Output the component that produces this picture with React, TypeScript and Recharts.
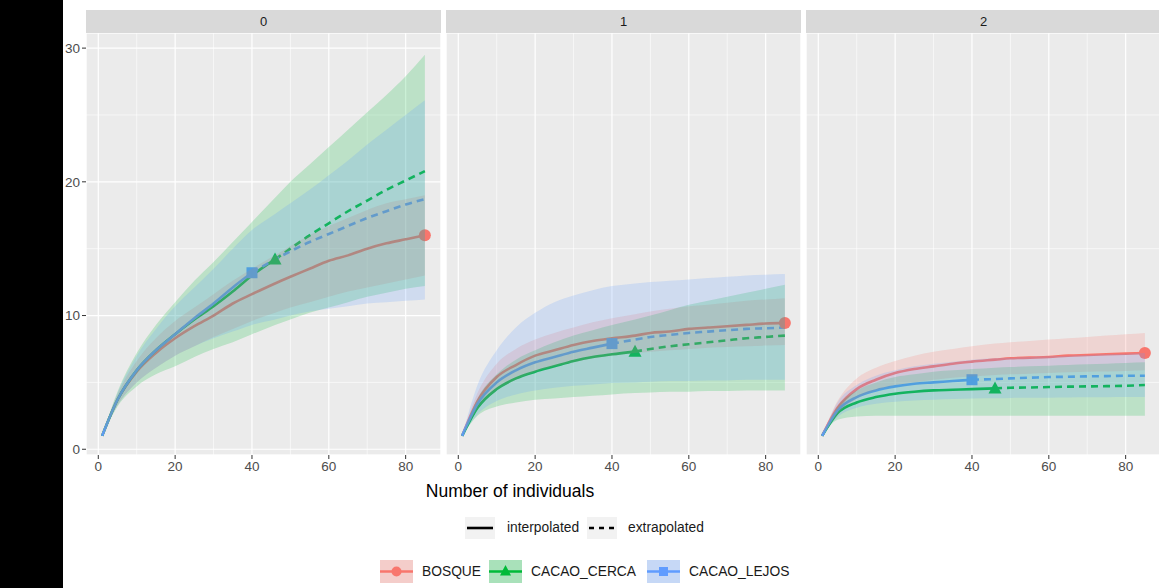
import React from "react";
import {
  ComposedChart,
  Line,
  Area,
  Scatter,
  XAxis,
  YAxis,
  CartesianGrid,
} from "recharts";

// ---------------------------------------------------------------------------
// Data
// ---------------------------------------------------------------------------

const SIZES = [1, 5, 10, 15, 20, 25, 30, 35, 40, 46, 50, 55, 60, 65, 70, 75, 80, 85];

const OBS_BOSQUE = 85;
const OBS_CERCA = 46;
const OBS_LEJOS = 40;

const FACET_LABELS = ["0", "1", "2"];

// q = 0
const Q0_BOSQUE = [1, 3.7, 5.8, 7.2, 8.3, 9.2, 10.0, 10.9, 11.6, 12.4, 12.9, 13.5, 14.1, 14.5, 15.0, 15.4, 15.7, 16.0];
const Q0_BOSQUE_LO = [1, 3.3, 5.0, 6.1, 7.0, 7.7, 8.4, 9.0, 9.6, 10.2, 10.6, 11.0, 11.4, 11.8, 12.1, 12.4, 12.7, 13.0];
const Q0_BOSQUE_HI = [1, 4.1, 6.6, 8.3, 9.6, 10.6, 11.6, 12.6, 13.5, 14.5, 15.2, 16.0, 16.7, 17.3, 17.9, 18.4, 18.7, 19.0];
const Q0_CERCA = [1, 3.7, 5.9, 7.4, 8.6, 9.7, 10.7, 11.8, 13.0, 14.2, 15.0, 16.0, 16.9, 17.8, 18.6, 19.4, 20.1, 20.8];
const Q0_CERCA_LO = [1, 3.2, 4.7, 5.6, 6.2, 6.9, 7.5, 8.0, 8.6, 9.3, 9.7, 10.2, 10.6, 11.0, 11.4, 11.7, 12.0, 12.2];
const Q0_CERCA_HI = [1, 4.3, 7.2, 9.3, 11.0, 12.6, 14.0, 15.5, 17.0, 18.8, 20.0, 21.3, 22.6, 23.9, 25.2, 26.5, 27.9, 29.5];
const Q0_LEJOS = [1, 3.7, 5.9, 7.4, 8.6, 9.8, 10.9, 12.1, 13.2, 14.2, 14.8, 15.5, 16.1, 16.7, 17.3, 17.8, 18.3, 18.7];
const Q0_LEJOS_LO = [1, 3.3, 5.0, 6.1, 7.0, 7.7, 8.3, 8.8, 9.3, 9.7, 10.0, 10.3, 10.5, 10.7, 10.9, 11.0, 11.1, 11.2];
const Q0_LEJOS_HI = [1, 4.2, 7.0, 9.0, 10.7, 12.1, 13.5, 15.0, 16.4, 17.6, 18.4, 19.4, 20.5, 21.6, 22.8, 23.9, 25.0, 26.1];

// q = 1
const Q1_BOSQUE = [1, 3.6, 5.4, 6.3, 7.0, 7.4, 7.8, 8.1, 8.3, 8.5, 8.7, 8.8, 9.0, 9.1, 9.2, 9.3, 9.4, 9.45];
const Q1_BOSQUE_LO = [1, 3.0, 4.4, 5.2, 5.8, 6.2, 6.5, 6.8, 7.0, 7.2, 7.3, 7.4, 7.5, 7.6, 7.65, 7.7, 7.75, 7.8];
const Q1_BOSQUE_HI = [1, 4.2, 6.4, 7.5, 8.2, 8.7, 9.1, 9.5, 9.8, 10.1, 10.3, 10.5, 10.7, 10.8, 10.95, 11.1, 11.2, 11.3];
const Q1_CERCA = [1, 3.1, 4.5, 5.3, 5.8, 6.2, 6.6, 6.9, 7.1, 7.3, 7.5, 7.7, 7.85, 8.0, 8.15, 8.3, 8.4, 8.5];
const Q1_CERCA_LO = [1, 2.5, 3.2, 3.5, 3.7, 3.8, 3.9, 4.0, 4.1, 4.2, 4.25, 4.3, 4.3, 4.35, 4.35, 4.4, 4.4, 4.4];
const Q1_CERCA_HI = [1, 3.8, 5.6, 6.7, 7.4, 8.0, 8.5, 8.9, 9.3, 9.7, 10.0, 10.4, 10.8, 11.1, 11.4, 11.7, 12.0, 12.3];
const Q1_LEJOS = [1, 3.4, 5.0, 5.9, 6.5, 6.9, 7.3, 7.6, 7.9, 8.2, 8.4, 8.55, 8.7, 8.8, 8.9, 9.0, 9.05, 9.1];
const Q1_LEJOS_LO = [1, 2.6, 3.6, 4.1, 4.4, 4.6, 4.75, 4.85, 4.95, 5.0, 5.05, 5.1, 5.1, 5.15, 5.15, 5.2, 5.2, 5.2];
const Q1_LEJOS_HI = [1, 4.8, 7.4, 9.1, 10.2, 11.0, 11.5, 11.9, 12.2, 12.4, 12.5, 12.6, 12.7, 12.8, 12.9, 13.0, 13.05, 13.1];

// q = 2
const Q2_BOSQUE = [1, 3.1, 4.5, 5.2, 5.7, 6.0, 6.2, 6.4, 6.55, 6.7, 6.8, 6.85, 6.9, 7.0, 7.05, 7.1, 7.15, 7.2];
const Q2_BOSQUE_LO = [1, 2.6, 3.8, 4.4, 4.8, 5.0, 5.2, 5.35, 5.45, 5.55, 5.6, 5.65, 5.7, 5.75, 5.8, 5.82, 5.85, 5.9];
const Q2_BOSQUE_HI = [1, 3.6, 5.3, 6.1, 6.6, 7.0, 7.3, 7.5, 7.7, 7.9, 8.0, 8.1, 8.2, 8.3, 8.4, 8.5, 8.6, 8.7];
const Q2_CERCA = [1, 2.7, 3.5, 3.9, 4.15, 4.3, 4.4, 4.45, 4.5, 4.55, 4.6, 4.62, 4.65, 4.68, 4.7, 4.72, 4.75, 4.8];
const Q2_CERCA_LO = [1, 2.2, 2.45, 2.5, 2.5, 2.5, 2.5, 2.5, 2.5, 2.5, 2.5, 2.5, 2.5, 2.5, 2.5, 2.5, 2.5, 2.5];
const Q2_CERCA_HI = [1, 3.2, 4.4, 5.0, 5.4, 5.6, 5.8, 5.9, 6.0, 6.1, 6.15, 6.2, 6.25, 6.3, 6.35, 6.4, 6.45, 6.5];
const Q2_LEJOS = [1, 2.9, 3.9, 4.4, 4.7, 4.9, 5.0, 5.1, 5.2, 5.25, 5.3, 5.35, 5.4, 5.42, 5.45, 5.47, 5.5, 5.5];
const Q2_LEJOS_LO = [1, 2.4, 3.1, 3.4, 3.55, 3.65, 3.7, 3.75, 3.8, 3.82, 3.84, 3.85, 3.86, 3.87, 3.88, 3.89, 3.9, 3.9];
const Q2_LEJOS_HI = [1, 3.5, 4.8, 5.5, 5.9, 6.2, 6.4, 6.55, 6.7, 6.8, 6.85, 6.9, 6.95, 7.0, 7.05, 7.1, 7.15, 7.2];

const X_TICKS = [0, 20, 40, 60, 80];
const X_MINOR = [10, 30, 50, 70];
const Y_TICKS = [0, 10, 20, 30];
const Y_MINOR = [5, 15, 25];

// ---------------------------------------------------------------------------
// Style constants
// ---------------------------------------------------------------------------

const RED = "#F8766D";
const GREEN = "#00BA38";
const BLUE = "#619CFF";
const FONT = "'Liberation Sans', Arial, sans-serif";

const X_DOMAIN: [number, number] = [-3.2, 89.2];
const Y_DOMAIN: [number, number] = [-0.43, 31.13];

const PANEL_W = 355;
const PANEL_H = 422;
const PANEL_TOP = 33;
const AXIS_W = 30;
const PANEL_LEFTS = [86, 446, 806];

// ribbons go on top of lines and points, as in ggplot's iNEXT output
const RIBBON_Z = 2000;

// ---------------------------------------------------------------------------
// Helpers
// ---------------------------------------------------------------------------

type Site = { est: number[]; lo: number[]; hi: number[]; obs: number };

function buildRows(b: Site, c: Site, l: Site) {
  return SIZES.map((n, i) => ({
    n,
    bInt: n <= b.obs ? b.est[i] : null,
    cInt: n <= c.obs ? c.est[i] : null,
    cExt: n >= c.obs ? c.est[i] : null,
    lInt: n <= l.obs ? l.est[i] : null,
    lExt: n >= l.obs ? l.est[i] : null,
    bBand: [b.lo[i], b.hi[i]],
    cBand: [c.lo[i], c.hi[i]],
    lBand: [l.lo[i], l.hi[i]],
  }));
}

function obsPoint(s: Site) {
  return [{ n: s.obs, v: s.est[SIZES.indexOf(s.obs)] }];
}

function buildSites(
  b: number[], bl: number[], bh: number[],
  c: number[], cl: number[], ch: number[],
  l: number[], ll: number[], lh: number[],
) {
  const bosque = { est: b, lo: bl, hi: bh, obs: OBS_BOSQUE };
  const cerca = { est: c, lo: cl, hi: ch, obs: OBS_CERCA };
  const lejos = { est: l, lo: ll, hi: lh, obs: OBS_LEJOS };
  return { rows: buildRows(bosque, cerca, lejos), bosque, cerca, lejos };
}

const FACETS = [
  buildSites(Q0_BOSQUE, Q0_BOSQUE_LO, Q0_BOSQUE_HI, Q0_CERCA, Q0_CERCA_LO, Q0_CERCA_HI, Q0_LEJOS, Q0_LEJOS_LO, Q0_LEJOS_HI),
  buildSites(Q1_BOSQUE, Q1_BOSQUE_LO, Q1_BOSQUE_HI, Q1_CERCA, Q1_CERCA_LO, Q1_CERCA_HI, Q1_LEJOS, Q1_LEJOS_LO, Q1_LEJOS_HI),
  buildSites(Q2_BOSQUE, Q2_BOSQUE_LO, Q2_BOSQUE_HI, Q2_CERCA, Q2_CERCA_LO, Q2_CERCA_HI, Q2_LEJOS, Q2_LEJOS_LO, Q2_LEJOS_HI),
];

const circleShape = (p: any) => <circle cx={p.cx} cy={p.cy} r={6} fill={RED} />;
const triangleShape = (p: any) => (
  <polygon
    points={`${p.cx},${p.cy - 7} ${p.cx - 6.5},${p.cy + 5} ${p.cx + 6.5},${p.cy + 5}`}
    fill={GREEN}
  />
);
const squareShape = (p: any) => (
  <rect x={p.cx - 5.5} y={p.cy - 5.5} width={11} height={11} fill={BLUE} />
);

// ---------------------------------------------------------------------------
// Panel
// ---------------------------------------------------------------------------

function Panel({ idx }: { idx: number }) {
  const facet = FACETS[idx];
  const left = PANEL_LEFTS[idx];
  const showY = idx === 0;

  return (
    <>
      <div
        style={{
          position: "absolute",
          left,
          top: 10,
          width: PANEL_W,
          height: 23,
          background: "#D9D9D9",
          color: "#1A1A1A",
          fontSize: 13,
          lineHeight: "23px",
          textAlign: "center",
        }}
      >
        {FACET_LABELS[idx]}
      </div>
      <div style={{ position: "absolute", left: left - AXIS_W, top: PANEL_TOP }}>
        <ComposedChart
          width={PANEL_W + AXIS_W}
          height={PANEL_H + 28}
          data={facet.rows}
          margin={{ top: 0, right: 0, bottom: 0, left: 0 }}
        >
          <XAxis
            dataKey="n"
            type="number"
            domain={X_DOMAIN}
            ticks={X_TICKS}
            interval={0}
            allowDataOverflow
            axisLine={false}
            tickSize={4}
            tickLine={{ stroke: "#333333" }}
            tick={{ fill: "#4D4D4D", fontSize: 13.5, fontFamily: FONT }}
            height={28}
          />
          <XAxis
            xAxisId="minor"
            dataKey="n"
            type="number"
            domain={X_DOMAIN}
            ticks={X_MINOR}
            allowDataOverflow
            hide
          />
          <YAxis
            type="number"
            domain={Y_DOMAIN}
            ticks={Y_TICKS}
            interval={0}
            allowDataOverflow
            width={AXIS_W}
            axisLine={false}
            tickSize={4}
            tickLine={showY ? { stroke: "#333333" } : false}
            tick={showY ? { fill: "#4D4D4D", fontSize: 13.5, fontFamily: FONT } : false}
          />
          <YAxis
            yAxisId="minor"
            type="number"
            domain={Y_DOMAIN}
            ticks={Y_MINOR}
            allowDataOverflow
            hide
          />
          <CartesianGrid fill="#EBEBEB" stroke="#FFFFFF" strokeWidth={1.2} />
          <CartesianGrid xAxisId="minor" yAxisId="minor" stroke="#FFFFFF" strokeWidth={0.6} />

          {/* interpolated */}
          <Line dataKey="bInt" type="monotone" stroke={RED} strokeWidth={2.6} dot={false} isAnimationActive={false} />
          <Line dataKey="cInt" type="monotone" stroke={GREEN} strokeWidth={2.6} dot={false} isAnimationActive={false} />
          <Line dataKey="lInt" type="monotone" stroke={BLUE} strokeWidth={2.6} dot={false} isAnimationActive={false} />

          {/* extrapolated */}
          <Line dataKey="cExt" type="monotone" stroke={GREEN} strokeWidth={2.6} strokeDasharray="7 5" dot={false} isAnimationActive={false} />
          <Line dataKey="lExt" type="monotone" stroke={BLUE} strokeWidth={2.6} strokeDasharray="7 5" dot={false} isAnimationActive={false} />

          {/* observed points */}
          <Scatter data={obsPoint(facet.bosque)} dataKey="v" shape={circleShape} isAnimationActive={false} />
          <Scatter data={obsPoint(facet.cerca)} dataKey="v" shape={triangleShape} isAnimationActive={false} />
          <Scatter data={obsPoint(facet.lejos)} dataKey="v" shape={squareShape} isAnimationActive={false} />

          {/* confidence ribbons */}
          <Area dataKey="bBand" type="monotone" fill={RED} fillOpacity={0.2} stroke="none" isAnimationActive={false} zIndex={RIBBON_Z} />
          <Area dataKey="cBand" type="monotone" fill={GREEN} fillOpacity={0.2} stroke="none" isAnimationActive={false} zIndex={RIBBON_Z} />
          <Area dataKey="lBand" type="monotone" fill={BLUE} fillOpacity={0.2} stroke="none" isAnimationActive={false} zIndex={RIBBON_Z} />
        </ComposedChart>
      </div>
    </>
  );
}

// ---------------------------------------------------------------------------
// Legends
// ---------------------------------------------------------------------------

function SiteKey({ color, shape }: { color: string; shape: string }) {
  return (
    <svg width={33} height={23} style={{ display: "block" }}>
      <rect x={0} y={0} width={33} height={23} fill="#F2F2F2" />
      <line x1={0} y1={11.5} x2={33} y2={11.5} stroke={color} strokeWidth={2.6} />
      {shape === "circle" && <circle cx={16.5} cy={11.5} r={5} fill={color} />}
      {shape === "triangle" && <polygon points="16.5,5 11,15.5 22,15.5" fill={color} />}
      {shape === "square" && <rect x={12} y={7} width={9} height={9} fill={color} />}
      <rect x={0} y={0} width={33} height={23} fill={color} fillOpacity={0.3} />
    </svg>
  );
}

function LineKey({ dashed }: { dashed: boolean }) {
  return (
    <svg width={30} height={22} style={{ display: "block" }}>
      <rect x={0} y={0} width={30} height={22} fill="#F2F2F2" />
      <line
        x1={2}
        y1={11}
        x2={28}
        y2={11}
        stroke="#000000"
        strokeWidth={2.6}
        strokeDasharray={dashed ? "5 5" : undefined}
      />
    </svg>
  );
}

const abs = (left: number, top: number): React.CSSProperties => ({
  position: "absolute",
  left,
  top,
});

export default function App() {
  const text: React.CSSProperties = { fontSize: 13.8, color: "#1A1A1A", lineHeight: "22px", whiteSpace: "nowrap" };
  return (
    <div
      style={{
        position: "fixed",
        left: 0,
        top: 0,
        width: 1159,
        height: 588,
        overflow: "hidden",
        background: "#FFFFFF",
        fontFamily: FONT,
      }}
    >
      <Panel idx={0} />
      <Panel idx={1} />
      <Panel idx={2} />

      <div
        style={{
          ...abs(400, 480),
          width: 220,
          textAlign: "center",
          fontSize: 17.5,
          color: "#000000",
          lineHeight: "22px",
        }}
      >
        Number of individuals
      </div>

      <div style={abs(465, 517)}><LineKey dashed={false} /></div>
      <div style={{ ...abs(507, 517), ...text }}>interpolated</div>
      <div style={abs(587, 517)}><LineKey dashed={true} /></div>
      <div style={{ ...abs(628, 517), ...text }}>extrapolated</div>

      <div style={abs(380, 560)}><SiteKey color={RED} shape="circle" /></div>
      <div style={{ ...abs(422, 561), ...text }}>BOSQUE</div>
      <div style={abs(489, 560)}><SiteKey color={GREEN} shape="triangle" /></div>
      <div style={{ ...abs(531, 561), ...text }}>CACAO_CERCA</div>
      <div style={abs(647, 560)}><SiteKey color={BLUE} shape="square" /></div>
      <div style={{ ...abs(689, 561), ...text }}>CACAO_LEJOS</div>

      <div style={{ ...abs(0, 0), width: 63, height: 588, background: "#000000" }} />
    </div>
  );
}
